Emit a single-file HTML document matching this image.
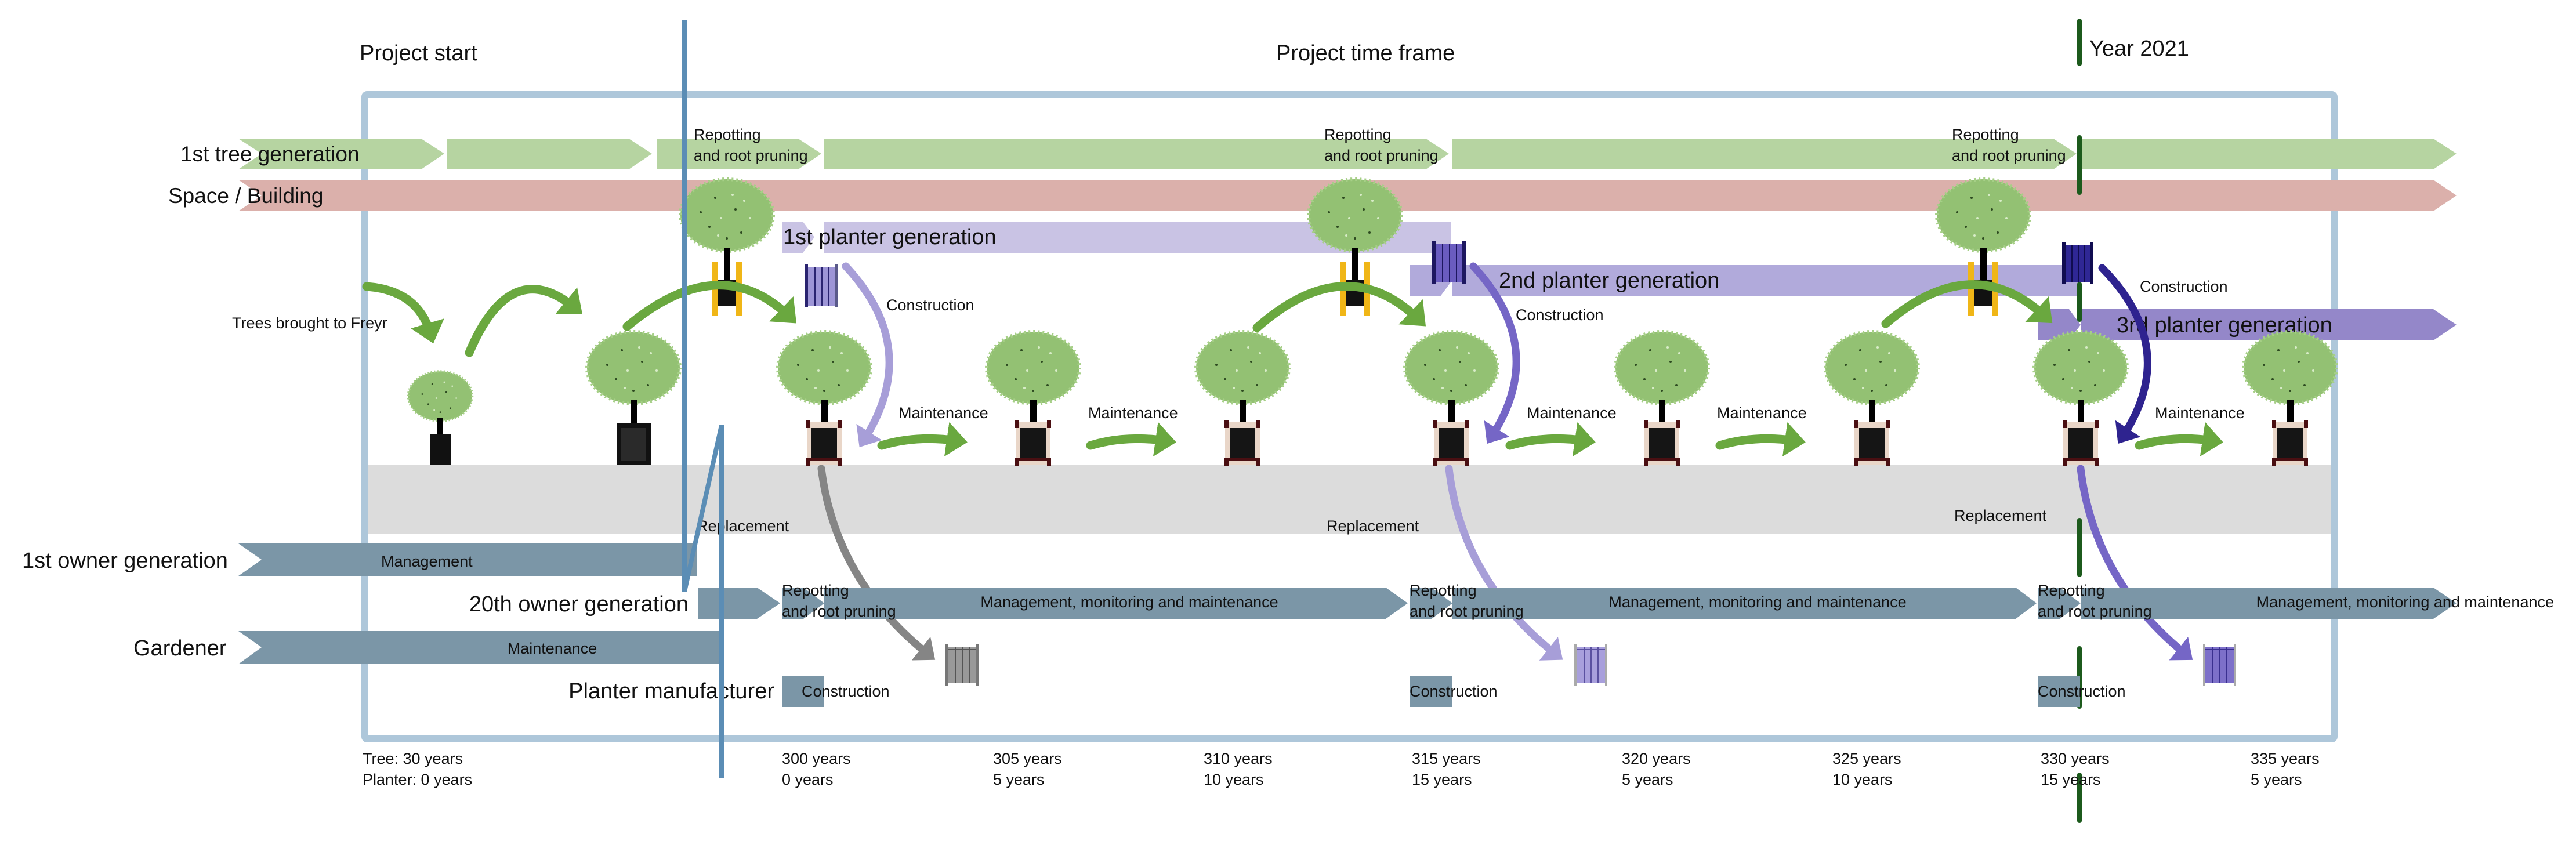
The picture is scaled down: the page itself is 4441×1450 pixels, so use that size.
<!DOCTYPE html>
<html><head><meta charset="utf-8"><style>
html,body{margin:0;padding:0;background:#fff;}
svg{display:block;}
text{font-family:"Liberation Sans",Arial,sans-serif;fill:#111;}
</style></head><body>
<svg width="4441" height="1450" viewBox="0 0 4441 1450" xmlns="http://www.w3.org/2000/svg">
<defs>
<marker id="mg" markerWidth="4" markerHeight="4" refX="1.2" refY="2" orient="auto" markerUnits="strokeWidth"><path d="M0,0 L2.4,2 L0,4 z" fill="#6aa83f"/></marker>
<marker id="mp1" markerWidth="4" markerHeight="4" refX="1.2" refY="2" orient="auto" markerUnits="strokeWidth"><path d="M0,0 L2.4,2 L0,4 z" fill="#a79ed8"/></marker>
<marker id="mp2" markerWidth="4" markerHeight="4" refX="1.2" refY="2" orient="auto" markerUnits="strokeWidth"><path d="M0,0 L2.4,2 L0,4 z" fill="#7566c6"/></marker>
<marker id="mp3" markerWidth="4" markerHeight="4" refX="1.2" refY="2" orient="auto" markerUnits="strokeWidth"><path d="M0,0 L2.4,2 L0,4 z" fill="#2e238f"/></marker>
<marker id="mgr" markerWidth="4" markerHeight="4" refX="1.2" refY="2" orient="auto" markerUnits="strokeWidth"><path d="M0,0 L2.4,2 L0,4 z" fill="#858585"/></marker>
<g id="canopy">
<ellipse cx="0" cy="0" rx="80" ry="62" fill="#93c173"/>
<ellipse cx="0" cy="0" rx="80" ry="62" fill="none" stroke="#a6cf87" stroke-width="6" stroke-dasharray="3 5"/>
<g fill="#2d4a20"><circle cx="-20" cy="-30" r="2"/><circle cx="15" cy="-10" r="2"/><circle cx="-30" cy="20" r="2"/><circle cx="25" cy="30" r="2"/><circle cx="0" cy="40" r="2"/><circle cx="-45" cy="-5" r="2"/></g>
<g fill="#d8ecc8"><circle cx="10" cy="-35" r="2"/><circle cx="-10" cy="5" r="2"/><circle cx="40" cy="5" r="2"/><circle cx="-15" cy="35" r="2"/><circle cx="30" cy="-25" r="2"/></g>
</g>
<g id="pot">
<rect x="-30" y="0" width="60" height="74" fill="#e9d6c8"/>
<rect x="-22" y="10" width="44" height="56" fill="#151515"/>
<rect x="-31" y="-4" width="7" height="14" fill="#4a0f12"/><rect x="24" y="-4" width="7" height="14" fill="#4a0f12"/>
<rect x="-31" y="62" width="7" height="14" fill="#4a0f12"/><rect x="24" y="62" width="7" height="14" fill="#4a0f12"/>
<rect x="-30" y="62" width="60" height="4" fill="#4a0f12"/>
</g>
<g id="tree">
<use href="#canopy" x="0" y="634"/>
<rect x="-5" y="690" width="11" height="70" fill="#000"/>
<use href="#pot" x="0" y="728"/>
</g>
<g id="utree">
<use href="#canopy" x="0" y="371"/>
<rect x="-5" y="428" width="11" height="60" fill="#000"/>
<rect x="-20" y="482" width="42" height="45" fill="#111"/>
<rect x="-26" y="452" width="10" height="93" fill="#f0b617"/>
<rect x="16" y="452" width="10" height="93" fill="#f0b617"/>
</g>
</defs>

<!-- titles -->
<text x="620" y="104" font-size="38">Project start</text>
<text x="2200" y="104" font-size="38">Project time frame</text>
<text x="3602" y="96" font-size="38">Year 2021</text>

<!-- grey band -->
<rect x="629" y="801" width="3393" height="120" fill="#dcdcdc"/>

<!-- frame -->
<rect x="629" y="163" width="3395" height="1111" fill="none" stroke="#aec7da" stroke-width="12" rx="4"/>

<!-- green tree-generation row -->
<g fill="#b6d4a1">
<polygon points="411,239 726,239 766,265 726,292 411,292 451,265"/>
<polygon points="770,239 1084,239 1124,265 1084,292 770,292"/>
<polygon points="1132,239 1376,239 1416,265 1376,292 1132,292"/>
<polygon points="1421,239 2458,239 2498,265 2458,292 1421,292"/>
<polygon points="2504,239 3540,239 3580,265 3540,292 2504,292"/>
<polygon points="3585,239 4195,239 4235,265 4195,292 3585,292"/>
</g>
<text x="311" y="278" font-size="37">1st tree generation</text>
<!-- space/building -->
<polygon points="411,310 4195,310 4235,337 4195,364 411,364 451,337" fill="#dbb0ab"/>
<text x="290" y="350" font-size="37">Space / Building</text>

<!-- planter generations -->
<polygon points="1348,382 1384,382 1404,409 1384,436 1348,436" fill="#c9c3e4"/>
<rect x="1420" y="382" width="1082" height="54" fill="#c9c3e4"/>
<text x="1350" y="421" font-size="38">1st planter generation</text>
<polygon points="2430,457 2483,457 2503,484 2483,511 2430,511" fill="#b1aadb"/>
<rect x="2503" y="457" width="1084" height="54" fill="#b1aadb"/>
<text x="2584" y="496" font-size="38">2nd planter generation</text>
<polygon points="3513,533 3567,533 3587,560 3567,587 3513,587" fill="#9487c9"/>
<polygon points="3587,533 4195,533 4235,560 4195,587 3587,587" fill="#9487c9"/>
<text x="3649" y="573" font-size="38">3rd planter generation</text>

<!-- year line -->
<g stroke="#1c5a1c" stroke-width="8" stroke-linecap="round">
<line x1="3585" y1="36" x2="3585" y2="110"/>
<line x1="3585" y1="237" x2="3585" y2="332"/>
<line x1="3585" y1="490" x2="3585" y2="551"/>
<line x1="3585" y1="897" x2="3585" y2="991"/>
<line x1="3585" y1="1118" x2="3585" y2="1218"/>
<line x1="3585" y1="1336" x2="3585" y2="1415"/>
</g>

<!-- repotting labels -->
<g font-size="27">
<text x="1196" y="241">Repotting</text><text x="1196" y="277">and root pruning</text>
<text x="2283" y="241">Repotting</text><text x="2283" y="277">and root pruning</text>
<text x="3365" y="241">Repotting</text><text x="3365" y="277">and root pruning</text>
</g>

<!-- trees -->
<g transform="translate(759,0)">
<use href="#canopy" transform="translate(0,683) scale(0.69)"/>
<rect x="-5" y="720" width="10" height="40" fill="#000"/>
<rect x="-18" y="749" width="37" height="52" fill="#111"/>
</g>
<g transform="translate(1092,0)">
<use href="#canopy" x="0" y="634"/>
<rect x="-5" y="690" width="11" height="60" fill="#000"/>
<rect x="-29" y="729" width="59" height="72" fill="#111"/>
<rect x="-22" y="738" width="44" height="56" fill="#2a2a2a"/>
</g>
<use href="#tree" x="1421"/>
<use href="#tree" x="1781"/>
<use href="#tree" x="2142"/>
<use href="#tree" x="2502"/>
<use href="#tree" x="2865"/>
<use href="#tree" x="3227"/>
<use href="#tree" x="3587"/>
<use href="#tree" x="3948"/>
<use href="#utree" x="1253"/>
<use href="#utree" x="2336"/>
<use href="#utree" x="3419"/>

<!-- planter icons -->
<g>
<rect x="1390" y="460" width="52" height="68" fill="#9d95d6"/>
<g stroke="#2a2470" stroke-width="2"><line x1="1405" y1="460" x2="1405" y2="528"/><line x1="1417" y1="460" x2="1417" y2="528"/><line x1="1429" y1="460" x2="1429" y2="528"/></g>
<rect x="1387" y="455" width="6" height="75" fill="#2a2470"/><rect x="1439" y="455" width="6" height="75" fill="#5a5a8a"/>
</g>
<g>
<rect x="2472" y="421" width="52" height="66" fill="#6a5cc0"/>
<g stroke="#1d1760" stroke-width="2"><line x1="2487" y1="421" x2="2487" y2="487"/><line x1="2499" y1="421" x2="2499" y2="487"/><line x1="2511" y1="421" x2="2511" y2="487"/></g>
<rect x="2469" y="416" width="6" height="74" fill="#1d1760"/><rect x="2521" y="416" width="6" height="74" fill="#1d1760"/>
</g>
<g>
<rect x="3558" y="423" width="48" height="63" fill="#2f2795"/>
<g stroke="#100c50" stroke-width="2"><line x1="3572" y1="423" x2="3572" y2="486"/><line x1="3583" y1="423" x2="3583" y2="486"/><line x1="3594" y1="423" x2="3594" y2="486"/></g>
<rect x="3555" y="418" width="6" height="72" fill="#100c50"/><rect x="3603" y="418" width="6" height="72" fill="#100c50"/>
</g>
<g>
<rect x="1632" y="1116" width="53" height="62" fill="#999"/>
<g stroke="#555" stroke-width="2"><line x1="1647" y1="1116" x2="1647" y2="1178"/><line x1="1659" y1="1116" x2="1659" y2="1178"/><line x1="1671" y1="1116" x2="1671" y2="1178"/><line x1="1632" y1="1120" x2="1685" y2="1120"/></g>
<rect x="1630" y="1111" width="4" height="71" fill="#777"/><rect x="1683" y="1111" width="4" height="71" fill="#777"/>
</g>
<g>
<rect x="2716" y="1116" width="53" height="62" fill="#a89fdc"/>
<g stroke="#5a50a0" stroke-width="2"><line x1="2731" y1="1116" x2="2731" y2="1178"/><line x1="2743" y1="1116" x2="2743" y2="1178"/><line x1="2755" y1="1116" x2="2755" y2="1178"/><line x1="2716" y1="1120" x2="2769" y2="1120"/></g>
<rect x="2714" y="1111" width="4" height="71" fill="#aaa"/><rect x="2767" y="1111" width="4" height="71" fill="#aaa"/>
</g>
<g>
<rect x="3800" y="1116" width="53" height="62" fill="#7d70c9"/>
<g stroke="#3a308f" stroke-width="2"><line x1="3815" y1="1116" x2="3815" y2="1178"/><line x1="3827" y1="1116" x2="3827" y2="1178"/><line x1="3839" y1="1116" x2="3839" y2="1178"/><line x1="3800" y1="1120" x2="3853" y2="1120"/></g>
<rect x="3798" y="1111" width="4" height="71" fill="#aaa"/><rect x="3851" y="1111" width="4" height="71" fill="#aaa"/>
</g>

<!-- green arrows -->
<g fill="none" stroke="#6aa83f" stroke-width="15" stroke-linecap="round">
<path d="M632,494 Q720,500 742,575" marker-end="url(#mg)"/>
<path d="M809,608 Q880,440 990,530" marker-end="url(#mg)"/>
<path d="M1081,563 Q1240,430 1360,545" marker-end="url(#mg)"/>
<path d="M2167,565 Q2320,430 2445,550" marker-end="url(#mg)"/>
<path d="M3251,558 Q3400,430 3525,545" marker-end="url(#mg)"/>
<path d="M1520,768 Q1580,750 1650,760" marker-end="url(#mg)"/>
<path d="M1880,768 Q1940,750 2010,760" marker-end="url(#mg)"/>
<path d="M2603,768 Q2663,750 2733,760" marker-end="url(#mg)"/>
<path d="M2965,768 Q3025,750 3095,760" marker-end="url(#mg)"/>
<path d="M3688,768 Q3748,750 3815,760" marker-end="url(#mg)"/>
</g>
<!-- construction arrows -->
<g fill="none" stroke-width="13" stroke-linecap="round">
<path d="M1458,459 Q1590,600 1490,758" stroke="#a79ed8" marker-end="url(#mp1)"/>
<path d="M2540,459 Q2670,600 2572,752" stroke="#7566c6" marker-end="url(#mp2)"/>
<path d="M3624,462 Q3760,600 3660,752" stroke="#2e238f" marker-end="url(#mp3)"/>
<path d="M1416,808 Q1440,1000 1600,1128" stroke="#858585" marker-end="url(#mgr)"/>
<path d="M2498,808 Q2520,1000 2682,1128" stroke="#a79ed8" marker-end="url(#mp1)"/>
<path d="M3587,808 Q3610,1000 3768,1128" stroke="#7566c6" marker-end="url(#mp2)"/>
</g>

<!-- arrow labels -->
<g font-size="27">
<text x="400" y="566">Trees brought to Freyr</text>
<text x="1528" y="535">Construction</text>
<text x="2613" y="552">Construction</text>
<text x="3689" y="503">Construction</text>
<text x="1549" y="721">Maintenance</text>
<text x="1876" y="721">Maintenance</text>
<text x="2632" y="721">Maintenance</text>
<text x="2960" y="721">Maintenance</text>
<text x="3715" y="721">Maintenance</text>
<text x="1201" y="916">Replacement</text>
<text x="2287" y="916">Replacement</text>
<text x="3369" y="898">Replacement</text>
</g>

<!-- owner rows -->
<g fill="#7b96a7">
<polygon points="411,937 1201,937 1201,993 411,993 451,965"/>
<polygon points="1203,1013 1305,1013 1345,1040 1305,1067 1203,1067"/>
<polygon points="1348,1013 1385,1013 1421,1040 1385,1067 1348,1067"/>
<polygon points="1421,1013 2389,1013 2427,1040 2389,1067 1421,1067"/>
<polygon points="2430,1013 2468,1013 2504,1040 2468,1067 2430,1067"/>
<polygon points="2504,1013 3475,1013 3511,1040 3475,1067 2504,1067"/>
<polygon points="3513,1013 3551,1013 3587,1040 3551,1067 3513,1067"/>
<polygon points="3587,1013 4195,1013 4235,1040 4195,1067 3587,1067"/>
<polygon points="411,1088 1241,1088 1241,1145 411,1145 451,1116"/>
<rect x="1348" y="1165" width="73" height="54"/>
<rect x="2430" y="1165" width="73" height="54"/>
<rect x="3513" y="1165" width="73" height="54"/>
</g>
<text x="38" y="979" font-size="38">1st owner generation</text>
<text x="1187" y="1054" font-size="38" text-anchor="end">20th owner generation</text>
<text x="230" y="1130" font-size="38">Gardener</text>
<text x="1335" y="1204" font-size="38" text-anchor="end">Planter manufacturer</text>
<g font-size="27">
<text x="657" y="977">Management</text>
<text x="952" y="1127" text-anchor="middle">Maintenance</text>
<text x="1348" y="1027">Repotting</text><text x="1348" y="1063">and root pruning</text>
<text x="2430" y="1027">Repotting</text><text x="2430" y="1063">and root pruning</text>
<text x="3513" y="1027">Repotting</text><text x="3513" y="1063">and root pruning</text>
<text x="1947" y="1047" text-anchor="middle">Management, monitoring and maintenance</text>
<text x="3030" y="1047" text-anchor="middle">Management, monitoring and maintenance</text>
<text x="4403" y="1047" text-anchor="end">Management, monitoring and maintenance</text>
<text x="1382" y="1201">Construction</text>
<text x="2430" y="1201">Construction</text>
<text x="3513" y="1201">Construction</text>
</g>

<!-- blue project start line -->
<g stroke="#5b8db5" stroke-width="8" fill="none">
<polyline points="1180,34 1180,1020 1244,733 1244,1341"/>
</g>

<!-- bottom labels -->
<g font-size="27">
<text x="625" y="1317">Tree: 30 years</text><text x="625" y="1353">Planter: 0 years</text>
<text x="1348" y="1317">300 years</text><text x="1348" y="1353">0 years</text>
<text x="1712" y="1317">305 years</text><text x="1712" y="1353">5 years</text>
<text x="2075" y="1317">310 years</text><text x="2075" y="1353">10 years</text>
<text x="2434" y="1317">315 years</text><text x="2434" y="1353">15 years</text>
<text x="2796" y="1317">320 years</text><text x="2796" y="1353">5 years</text>
<text x="3159" y="1317">325 years</text><text x="3159" y="1353">10 years</text>
<text x="3518" y="1317">330 years</text><text x="3518" y="1353">15 years</text>
<text x="3880" y="1317">335 years</text><text x="3880" y="1353">5 years</text>
</g>
</svg>
</body></html>
